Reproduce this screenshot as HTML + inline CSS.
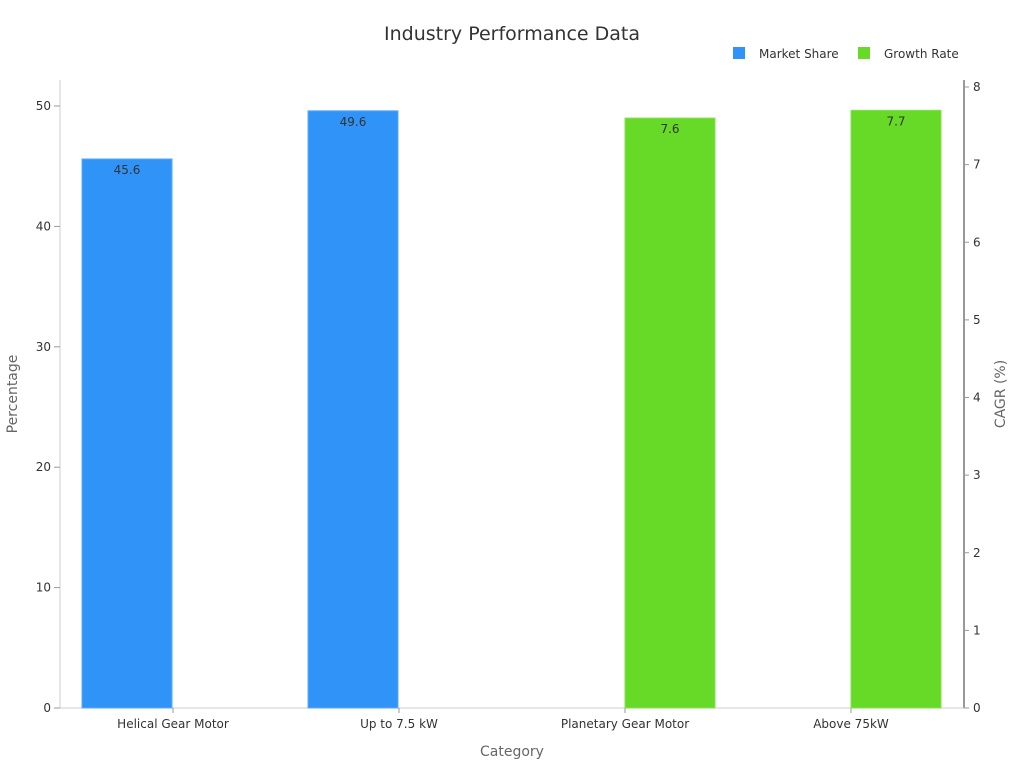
<!DOCTYPE html>
<html><head><meta charset="utf-8"><style>
body{margin:0;background:#fff;font-family:"DejaVu Sans","Liberation Sans",sans-serif;}
</style></head><body>
<svg id="chart" width="1024" height="768" xmlns="http://www.w3.org/2000/svg" font-family="DejaVu Sans, Liberation Sans, sans-serif">
<text x="512" y="40" text-anchor="middle" font-size="19" fill="#333">Industry Performance Data</text>
<g>
<rect x="733" y="47" width="12" height="12" fill="#3093F8"/>
<text x="759" y="58" font-size="12" fill="#333">Market Share</text>
<rect x="858" y="47" width="12" height="12" fill="#66DA26"/>
<text x="884" y="58" font-size="12" fill="#333">Growth Rate</text>
</g>
<g id="plot"></g>
<text transform="translate(17,394) rotate(-90)" text-anchor="middle" font-size="14" fill="#666">Percentage</text>
<text transform="translate(1005,394) rotate(-90)" text-anchor="middle" font-size="14" fill="#666">CAGR (%)</text>
<text x="512" y="756" text-anchor="middle" font-size="14" fill="#666">Category</text>
</svg>
<script>
const categories=["Helical Gear Motor","Up to 7.5 kW","Planetary Gear Motor","Above 75kW"];
const marketShare=[45.6,49.6,null,null];
const growthRate=[null,null,7.6,7.7];
const leftTicks=[0,10,20,30,40,50];
const rightTicks=[0,1,2,3,4,5,6,7,8];
const NS="http://www.w3.org/2000/svg";
const g=document.getElementById('plot');
const X0=60,X1=964,Y0=708,YT=80;
const yL=v=>Y0-v*(Y0-106)/50;
const yR=v=>Y0-v*(Y0-87)/8;
const band=(X1-X0)/categories.length;
const xC=i=>X0+band*(i+0.5);
function el(t,a,txt){const e=document.createElementNS(NS,t);for(const k in a)e.setAttribute(k,a[k]);if(txt!=null)e.textContent=txt;g.appendChild(e);return e;}
let e;
e=el('line',{x1:X0,y1:YT,x2:X0,y2:Y0,stroke:'#ccc'});


e=el('line',{x1:X1,y1:YT,x2:X1,y2:Y0,stroke:'#333'});


e=el('line',{x1:X0,y1:Y0,x2:X1,y2:Y0,stroke:'#ccc'});


leftTicks.forEach(v=>{
 el('line',{x1:X0-6,y1:yL(v),x2:X0,y2:yL(v),stroke:'#999'});
 e=el('text',{x:X0-9,y:yL(v)+4,'text-anchor':'end','font-size':12,fill:'#333'},v);
 
 
});
rightTicks.forEach(v=>{
 el('line',{x1:X1,y1:yR(v),x2:X1+5,y2:yR(v),stroke:'#999'});
 e=el('text',{x:X1+9,y:yR(v)+4,'font-size':12,fill:'#333'},v);
 
 
});
const bw=90;
categories.forEach((c,i)=>{
 const cx=xC(i);
 el('line',{x1:cx,y1:Y0,x2:cx,y2:Y0+5,stroke:'#999'});
 e=el('text',{x:cx,y:Y0+20,'text-anchor':'middle','font-size':12,fill:'#333'},c);
 
 
 if(marketShare[i]!=null){
  const y=yL(marketShare[i]);
  e=el('rect',{x:cx-bw-1,y:y,width:bw,height:Y0-y,fill:'#3093F8',stroke:'#5aa8f8'});
  
  
  e=el('text',{x:cx-bw/2-1,y:y+15,'text-anchor':'middle','font-size':12,fill:'#333'},marketShare[i].toFixed(1));
  
  
 }
 if(growthRate[i]!=null){
  const y=yR(growthRate[i]);
  e=el('rect',{x:cx,y:y,width:bw,height:Y0-y,fill:'#66DA26',stroke:'#85e055'});
  
  
  e=el('text',{x:cx+bw/2,y:y+15,'text-anchor':'middle','font-size':12,fill:'#333'},growthRate[i].toFixed(1));
  
  
 }
});
</script>
</body></html>
